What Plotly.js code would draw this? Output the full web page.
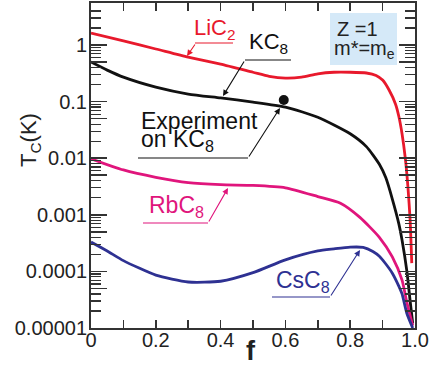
<!DOCTYPE html>
<html>
<head>
<meta charset="utf-8">
<script src="https://cdn.plot.ly/plotly-3.0.1.min.js"></script>
<style>
  html, body { margin: 0; padding: 0; background: #fff; }
  #chart { width: 441px; height: 366px; }
</style>
</head>
<body>
<div id="chart"></div>
<script>
// ---- data ----
const fLiC2 = [0, 0.1, 0.2, 0.3, 0.4, 0.5, 0.55, 0.6, 0.65, 0.7, 0.75, 0.8, 0.85, 0.88, 0.9, 0.92, 0.94, 0.95, 0.96, 0.97, 0.978, 0.985, 0.99];
const tcLiC2 = [1.63, 1.18, 0.85, 0.61, 0.46, 0.33, 0.28, 0.26, 0.27, 0.31, 0.33, 0.33, 0.32, 0.29, 0.24, 0.16, 0.09, 0.055, 0.027, 0.01, 0.0032, 0.0008, 0.00014];

const fKC8 = [0, 0.05, 0.1, 0.2, 0.3, 0.4, 0.5, 0.6, 0.7, 0.8, 0.85, 0.89, 0.91, 0.93, 0.95, 0.96, 0.975, 0.985, 0.993];
const tcKC8 = [0.50, 0.36, 0.27, 0.18, 0.136, 0.116, 0.098, 0.080, 0.053, 0.027, 0.016, 0.0078, 0.0045, 0.0019, 0.0007, 0.00036, 0.0001, 0.00003, 0.000012];

const fRbC8 = [0, 0.1, 0.2, 0.3, 0.4, 0.5, 0.6, 0.7, 0.77, 0.83, 0.89, 0.93, 0.96, 0.975, 0.993];
const tcRbC8 = [0.0098, 0.0062, 0.0046, 0.0037, 0.0034, 0.0033, 0.0030, 0.0021, 0.0016, 0.0009, 0.0004, 0.00018, 0.00007, 0.000028, 0.000011];

const fCsC8 = [0, 0.05, 0.1, 0.2, 0.3, 0.4, 0.5, 0.6, 0.7, 0.75, 0.8, 0.84, 0.87, 0.89, 0.91, 0.93, 0.95, 0.96, 0.975, 0.993];
const tcCsC8 = [3.3e-4, 2.3e-4, 1.55e-4, 8.6e-5, 6.5e-5, 6.7e-5, 9.5e-5, 1.6e-4, 2.3e-4, 2.5e-4, 2.68e-4, 2.65e-4, 2.25e-4, 1.85e-4, 1.35e-4, 9.3e-5, 5.5e-5, 4.0e-5, 1.8e-5, 1.0e-5];

const fExp = [0.595];
const tcExp = [0.107];

const xTickVals = [0, 0.2, 0.4, 0.6, 0.8, 1.0];
const xTickText = ['0', '0.2', '0.4', '0.6', '0.8', '1.0'];
const xMinorVals = [0.1, 0.3, 0.5, 0.7, 0.9];
const yDecades = [1, 0.1, 0.01, 0.001, 0.0001, 0.00001];
const yTickText = ['1', '0.1', '0.01', '0.001', '0.0001', '0.00001'];

// ---- colours ----
const RED = '#e8192c', BLACK = '#111111', MAG = '#e0157c', BLUE = '#2e3192';

// ---- ticks ----
const yMajorVals = [], yMajorText = [];
yDecades.forEach((d, i) => { yMajorVals.push(d); yMajorText.push(yTickText[i]); });
yDecades.forEach(d => { if (d * 5 < 5) { yMajorVals.push(d * 5); yMajorText.push(''); } });
const yMinorVals = [];
yDecades.forEach(d => { [2, 3, 4, 6, 7, 8, 9].forEach(k => { if (d * k < 5.5) yMinorVals.push(d * k); }); });

function line(x, y, color) {
  return { x: x, y: y, type: 'scatter', mode: 'lines',
           line: { color: color, width: 2.8, shape: 'spline', smoothing: 0.6 },
           hoverinfo: 'skip', showlegend: false };
}
const traces = [
  line(fLiC2, tcLiC2, RED),
  line(fKC8, tcKC8, BLACK),
  line(fRbC8, tcRbC8, MAG),
  line(fCsC8, tcCsC8, BLUE),
  { x: fExp, y: tcExp, type: 'scatter', mode: 'markers',
    marker: { color: BLACK, size: 10 }, showlegend: false, hoverinfo: 'skip' }
];

// pixel -> paper helpers for annotation placement
const L = 91, T = 3, W = 324, H = 325;
const px = v => (v - L) / W;
const py = v => (T + H - v) / H;

const FONT = 'Liberation Sans, Arial, Helvetica, sans-serif';
function label(text, x, y, color, size) {
  return { text: text, xref: 'paper', yref: 'paper', x: px(x), y: py(y),
           xanchor: 'left', yanchor: 'middle', showarrow: false,
           font: { family: FONT, size: size || 22, color: color } };
}
function arrow(tipX, tipY, tailX, tailY, color) {
  return { text: '', xref: 'paper', yref: 'paper', x: px(tipX), y: py(tipY),
           ax: tailX - tipX, ay: tailY - tipY, showarrow: true,
           arrowhead: 2, arrowsize: 1.1, arrowwidth: 1.1, arrowcolor: color, standoff: 0 };
}
function uline(x0, x1, y, color) {
  return { type: 'line', xref: 'paper', yref: 'paper', x0: px(x0), x1: px(x1), y0: py(y), y1: py(y),
           line: { color: color, width: 1.2 } };
}

const annotations = [
  label('LiC<sub>2</sub>', 192, 29, RED),
  arrow(187, 56, 196, 43, RED),
  label('KC<sub>8</sub>', 247, 43, BLACK),
  arrow(223, 96, 245, 60, BLACK),
  label('Experiment', 139, 121, BLACK, 23),
  label('on KC<sub>8</sub>', 139, 140, BLACK, 23),
  arrow(280, 108, 248, 158, BLACK),
  label('RbC<sub>8</sub>', 147, 206, MAG, 23),
  arrow(228, 188, 208, 223, MAG),
  label('CsC<sub>8</sub>', 274, 281, BLUE, 23),
  arrow(360, 250, 330, 297, BLUE),
  label('Z =1', 335, 29, '#222', 20),
  label('m*=m<sub>e</sub>', 332, 50, '#222', 20),
  { text: 'T<sub>C</sub>(K)', xref: 'paper', yref: 'paper', x: px(30), y: py(140),
    xanchor: 'center', yanchor: 'middle', textangle: -90, showarrow: false,
    font: { family: FONT, size: 22, color: '#222' } },
  { text: '<b>f</b>', xref: 'paper', yref: 'paper', x: px(251), y: py(351),
    xanchor: 'center', yanchor: 'middle', showarrow: false,
    font: { family: FONT, size: 27, color: '#222' } }
];

const shapes = [
  { type: 'rect', xref: 'paper', yref: 'paper', x0: px(330), x1: px(397), y0: py(65), y1: py(13),
    fillcolor: '#d5e9f8', line: { width: 0 }, layer: 'below' },
  uline(195, 233, 43, RED),
  uline(245, 291, 60, BLACK),
  uline(138, 248, 158, BLACK),
  uline(143, 208, 223, MAG),
  uline(272, 330, 297, BLUE)
];

const layout = {
  width: 441, height: 366,
  margin: { l: L, r: 441 - L - W, t: T, b: 366 - T - H, pad: 0 },
  paper_bgcolor: '#ffffff', plot_bgcolor: '#ffffff',
  font: { family: FONT, size: 20, color: '#222' },
  showlegend: false,
  xaxis: {
    range: [0, 1], showgrid: false, zeroline: false,
    showline: true, linecolor: '#333', linewidth: 2, mirror: 'allticks',
    ticks: 'inside', ticklen: 8, tickwidth: 1.5, tickcolor: '#333',
    tickmode: 'array', tickvals: xTickVals, ticktext: xTickText,
    ticklabelstandoff: -7,
    tickfont: { family: FONT, size: 20, color: '#222' },
    minor: { tickmode: 'array', tickvals: xMinorVals, ticks: 'inside', ticklen: 8, tickwidth: 1.5, tickcolor: '#333' }
  },
  yaxis: {
    type: 'log', range: [-5, 0.742], showgrid: false, zeroline: false,
    showline: true, linecolor: '#333', linewidth: 2, mirror: 'allticks',
    ticks: 'inside', ticklen: 16, tickwidth: 1.5, tickcolor: '#333',
    tickmode: 'array', tickvals: yMajorVals, ticktext: yMajorText,
    ticklabelstandoff: -2,
    tickfont: { family: FONT, size: 20, color: '#222' },
    minor: { tickmode: 'array', tickvals: yMinorVals, ticks: 'inside', ticklen: 10, tickwidth: 1.2, tickcolor: '#333' }
  },
  annotations: annotations,
  shapes: shapes
};

Plotly.newPlot('chart', traces, layout, { staticPlot: true, displayModeBar: false });
</script>
</body>
</html>
